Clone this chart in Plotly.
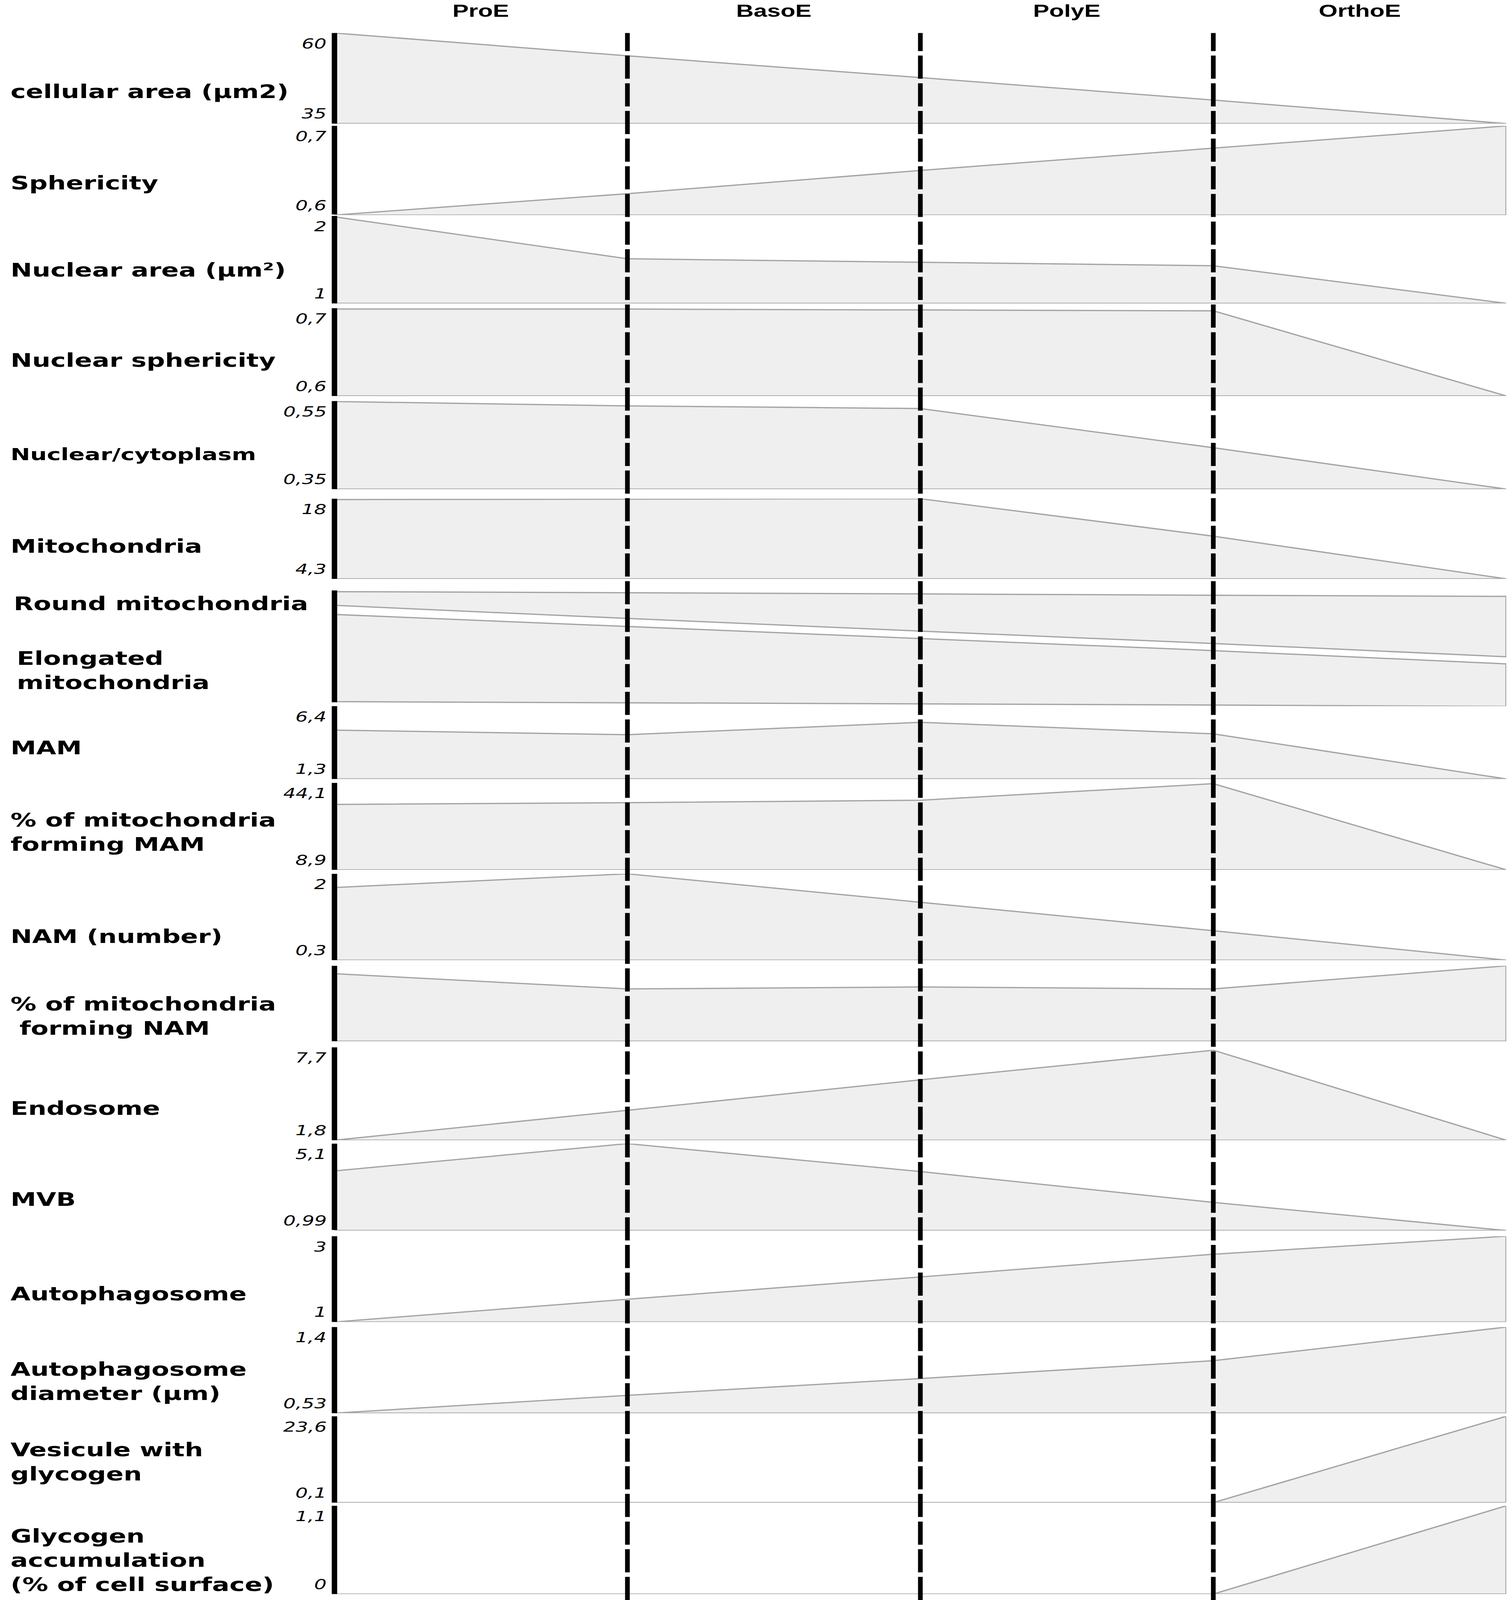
import plotly.graph_objects as go

W, H = 3862, 5669

# ---------------- data ----------------
stages = ["ProE", "BasoE", "PolyE", "OrthoE"]
stage_edges = [0, 1, 2, 3, 4]          # ProE start, boundaries, OrthoE end
dashed_bounds = [1, 2, 3]

cellular_area = [60, 53.7, 47.7, 41.5, 35]
sphericity = [0.6, 0.624, 0.65, 0.675, 0.7]
nuclear_area = [1.99, 1.51, 1.47, 1.43, 1.0]
nuclear_sphericity = [0.699, 0.699, 0.698, 0.697, 0.6]
nuclear_cytoplasm = [0.549, 0.539, 0.533, 0.444, 0.35]
mitochondria = [17.85, 17.95, 18.0, 11.6, 4.3]
round_top = [99.0, 98.1, 97.0, 95.9, 94.9]
round_bottom = [87.2, 76.0, 65.1, 54.5, 43.1]
elong_top = [79.4, 69.0, 58.6, 48.4, 37.0]
elong_bottom = [4.6, 3.6, 2.7, 1.7, 0.5]
mam = [4.72, 4.40, 5.27, 4.46, 1.3]
pct_mam = [35.4, 36.1, 37.1, 43.8, 8.9]
nam = [1.73, 2.0, 1.44, 0.88, 0.3]
pct_nam = [89.5, 69.3, 71.9, 69.3, 100]
endosome = [1.8, 3.70, 5.64, 7.52, 1.8]
mvb = [3.81, 5.1, 3.78, 2.32, 0.99]
autophagosome = [1.0, 1.53, 2.05, 2.58, 3.0]
autophagosome_diam = [0.53, 0.71, 0.88, 1.06, 1.4]
vesicle_glycogen = [0.1, 0.1, 0.1, 0.1, 23.6]
glycogen_acc = [0, 0, 0, 0, 1.1]

panel_values = [cellular_area, sphericity, nuclear_area, nuclear_sphericity,
                nuclear_cytoplasm, mitochondria, None, mam, pct_mam, nam,
                pct_nam, endosome, mvb, autophagosome, autophagosome_diam,
                vesicle_glycogen, glycogen_acc]
panel_ranges = [(35, 60), (0.6, 0.7), (1, 2), (0.6, 0.7), (0.35, 0.55),
                (4.3, 18), (0, 100), (1.3, 6.4), (8.9, 44.1), (0.3, 2),
                (0, 100), (1.8, 7.7), (0.99, 5.1), (1, 3), (0.53, 1.4),
                (0.1, 23.6), (0, 1.1)]
tick_labels = [("60", "35"), ("0,7", "0,6"), ("2", "1"), ("0,7", "0,6"),
               ("0,55", "0,35"), ("18", "4,3"), None, ("6,4", "1,3"),
               ("44,1", "8,9"), ("2", "0,3"), None, ("7,7", "1,8"),
               ("5,1", "0,99"), ("3", "1"), ("1,4", "0,53"), ("23,6", "0,1"),
               ("1,1", "0")]
row_labels = ["cellular area (µm2)", "Sphericity", "Nuclear area (µm²)",
              "Nuclear sphericity", "Nuclear/cytoplasm", "Mitochondria",
              "Round mitochondria", "Elongated<br>mitochondria", "MAM",
              "% of mitochondria<br>forming MAM", "NAM (number)",
              "% of mitochondria<br>\u00a0forming NAM", "Endosome", "MVB",
              "Autophagosome", "Autophagosome<br>diameter (µm)",
              "Vesicule with<br>glycogen",
              "Glycogen<br>accumulation<br>(% of cell surface)"]

# ---------------- layout / style (pixels) ----------------
panel_px = [(117, 438), (446, 762), (765, 1075), (1092, 1403), (1421, 1733),
            (1767, 2051), (2092, 2505), (2502, 2760), (2774, 3082),
            (3096, 3402), (3422, 3689), (3711, 4040), (4052, 4360),
            (4380, 4684), (4702, 5007), (5018, 5324), (5335, 5648)]
bar_px = [(117, 438), (446, 760), (765, 1075), (1092, 1403), (1421, 1733),
          (1767, 2051), (2092, 2488), (2502, 2760), (2774, 3082),
          (3096, 3402), (3422, 3689), (3711, 4040), (4052, 4358),
          (4380, 4684), (4702, 5007), (5018, 5324), (5335, 5648)]
label_pos = [(25, 325), (25, 648), (25, 958), (25, 1277), (25, 1610),
             (25, 1936), (33, 2139), (41, 2375), (25, 2650), (25, 2949),
             (25, 3318), (25, 3600), (25, 3927), (25, 4249), (25, 4585),
             (25, 4895), (25, 5180), (25, 5529)]

L, R = 856, 7
PW = W - L - R
FILL = "#efefef"
LINE = "#a4a4a4"
LW = 4.5


def py(p):
    return 1 - p / H


def pxx(p):
    return (p - L) / PW


fig = go.Figure()
layout = dict(
    width=W, height=H, plot_bgcolor="white", paper_bgcolor="white",
    margin=dict(l=L, r=R, t=0, b=0), showlegend=False,
    xaxis=dict(range=[0, 4], visible=False, domain=[0, 1], fixedrange=True),
)
annotations = []
shapes = []

for i, (vals, rng) in enumerate(zip(panel_values, panel_ranges)):
    ax = "y" if i == 0 else f"y{i+1}"
    key = "yaxis" if i == 0 else f"yaxis{i+1}"
    top, bot = panel_px[i]
    layout[key] = dict(domain=[py(bot), py(top)], range=list(rng),
                       visible=False, anchor="x", fixedrange=True)
    lo = rng[0]
    if vals is not None:
        xs = stage_edges + [stage_edges[-1], stage_edges[0]]
        ys = list(vals) + [lo, lo]
        fig.add_trace(go.Scatter(x=xs, y=ys, xaxis="x", yaxis=ax, mode="lines",
                                 fill="toself", fillcolor=FILL,
                                 line=dict(color=LINE, width=LW),
                                 hoverinfo="skip"))
    else:
        for t_, b_ in ((round_top, round_bottom), (elong_top, elong_bottom)):
            xs = stage_edges + stage_edges[::-1] + [stage_edges[0]]
            ys = list(t_) + list(b_)[::-1] + [t_[0]]
            fig.add_trace(go.Scatter(x=xs, y=ys, xaxis="x", yaxis=ax,
                                     mode="lines", fill="toself",
                                     fillcolor=FILL,
                                     line=dict(color=LINE, width=LW),
                                     hoverinfo="skip"))
    # left black axis bar (paper-referenced so it is not clipped)
    bt, bb = bar_px[i]
    shapes.append(dict(type="line", xref="paper", yref="paper", x0=0, x1=0,
                       y0=py(bb), y1=py(bt),
                       line=dict(color="black", width=14), layer="above"))
    if tick_labels[i] is not None:
        hi_t, lo_t = tick_labels[i]
        annotations.append(dict(x=pxx(838), y=rng[1], xref="paper", yref=ax,
                                text=hi_t, showarrow=False, xanchor="right",
                                yanchor="top", yshift=-6,
                                font=dict(family="DejaVu Sans", size=50,
                                          style="italic", color="black")))
        annotations.append(dict(x=pxx(838), y=rng[0], xref="paper", yref=ax,
                                text=lo_t, showarrow=False, xanchor="right",
                                yanchor="bottom", yshift=4,
                                font=dict(family="DejaVu Sans", size=50,
                                          style="italic", color="black")))

for b in dashed_bounds:
    shapes.append(dict(type="line", xref="x", yref="paper", x0=b, x1=b,
                       y0=0, y1=py(117),
                       line=dict(color="black", width=12, dash="82px,16px"),
                       layer="above"))

for k, s in enumerate(stages):
    annotations.append(dict(x=(stage_edges[k] + stage_edges[k + 1]) / 2,
                            y=py(38), xref="x", yref="paper", text=s,
                            showarrow=False, xanchor="center",
                            yanchor="middle",
                            font=dict(family="Liberation Sans", size=62,
                                      weight="bold", color="black")))

for txt, (lx, ly) in zip(row_labels, label_pos):
    size = 60 if txt.startswith("Nuclear/") else 66
    annotations.append(dict(x=pxx(lx), y=py(ly), xref="paper", yref="paper",
                            text=txt, showarrow=False, xanchor="left",
                            yanchor="middle", align="left",
                            font=dict(family="DejaVu Sans", size=size,
                                      weight="bold", color="black")))

layout["annotations"] = annotations
layout["shapes"] = shapes
fig.update_layout(**layout)

# The browser viewport may be shorter than the figure; fit the full figure
# into the visible window so nothing is cut off.
post = (
    "var gd=document.getElementById('{plot_id}');"
    "document.documentElement.style.margin='0';"
    "document.body.style.margin='0';"
    "document.documentElement.style.overflow='hidden';"
    "document.body.style.overflow='hidden';"
    "var s=window.innerHeight/" + str(H) + ";"
    "if(s<1){gd.style.transformOrigin='0 0';"
    "gd.style.transform='scale(1,'+s+')';}"
)
fig.write_html("out.html", post_script=post,
               config={"displayModeBar": False, "staticPlot": True})
